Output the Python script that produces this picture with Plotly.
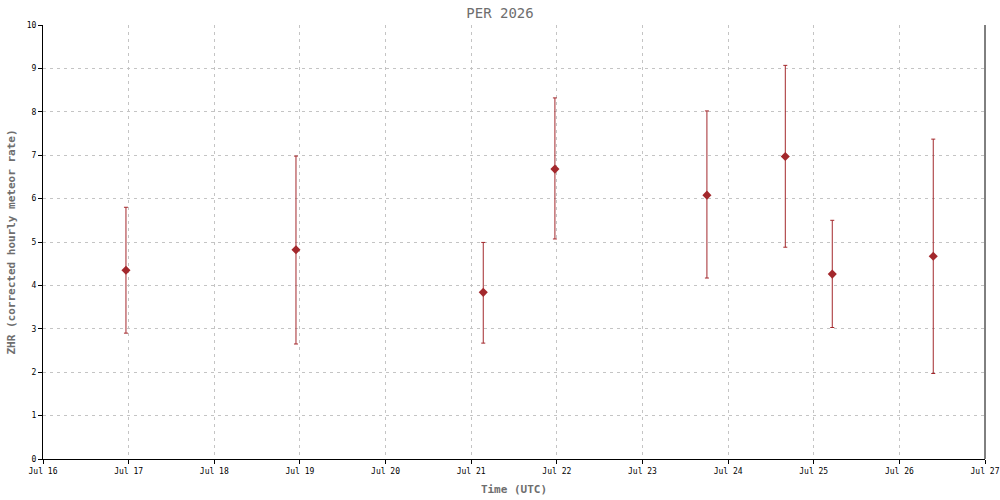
import plotly.graph_objects as go

# Observation times (UTC) and ZHR values with asymmetric error limits
times = [
    "2026-07-16 23:15", "2026-07-18 22:54", "2026-07-21 03:23",
    "2026-07-21 23:28", "2026-07-23 18:04", "2026-07-24 16:02",
    "2026-07-25 05:12", "2026-07-26 09:30",
]
zhr = [4.35, 4.82, 3.84, 6.68, 6.08, 6.97, 4.26, 4.67]
zhr_upper = [5.80, 6.98, 4.99, 8.32, 8.02, 9.07, 5.50, 7.37]
zhr_lower = [2.90, 2.65, 2.67, 5.07, 4.17, 4.88, 3.03, 1.97]

x_ticks = ["2026-07-%02d" % d for d in range(16, 28)]
y_ticks = list(range(0, 11))

err_plus = [u - v for u, v in zip(zhr_upper, zhr)]
err_minus = [v - l for v, l in zip(zhr, zhr_lower)]

COLOR = "#a3282c"
FONT = "DejaVu Sans Mono"

fig = go.Figure()
fig.add_trace(go.Scatter(
    x=times, y=zhr, mode="markers",
    marker=dict(symbol="diamond", size=7, color=COLOR),
    error_y=dict(type="data", symmetric=False, array=err_plus,
                 arrayminus=err_minus, color=COLOR, thickness=1, width=2),
    showlegend=False,
))

grid = dict(showgrid=True, gridcolor="#c4c4c4", gridwidth=1, griddash="3px,4px")

fig.update_layout(
    width=1000, height=500,
    margin=dict(l=43, r=15, t=25, b=41, autoexpand=False),
    paper_bgcolor="white", plot_bgcolor="white",
    title=dict(text="PER 2026", x=0.5, xanchor="center", y=0.974, yanchor="middle",
               automargin=False,
               font=dict(family=FONT, size=14, color="#6e6e6e")),
    font=dict(family=FONT, size=8, color="black"),
    xaxis=dict(
        type="date", range=[x_ticks[0], x_ticks[-1]],
        tickvals=x_ticks, tickformat="%b %d", automargin=False,
        showline=True, linecolor="black", linewidth=1,
        ticks="outside", ticklen=4, tickcolor="black",
        zeroline=False,
        title=dict(text="<b>Time (UTC)</b>", standoff=10,
                   font=dict(family=FONT, size=11, color="#6e6e6e")),
        **grid,
    ),
    yaxis=dict(
        range=[0, 10], tickvals=y_ticks, automargin=False,
        showline=True, linecolor="black", linewidth=1,
        ticks="outside", ticklen=4, tickcolor="black",
        zeroline=False,
        title=dict(text="<b>ZHR (corrected hourly meteor rate)</b>", standoff=8,
                   font=dict(family=FONT, size=11, color="#6e6e6e")),
        **grid,
    ),
    shapes=[dict(type="line", xref="paper", yref="paper", x0=1, x1=1, y0=0, y1=1,
                 line=dict(color="black", width=1))],
)

fig.write_html("out.html", config={"displayModeBar": False},
               post_script="document.body.style.margin='0';document.body.style.overflow='hidden';")
